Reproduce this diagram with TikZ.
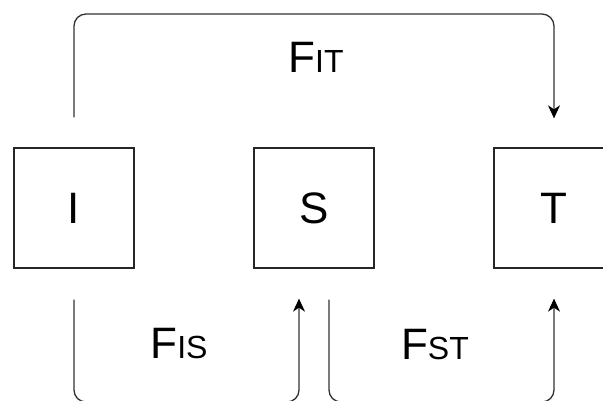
\documentclass[tikz,border=0pt]{standalone}
\usepackage{fontspec}
\setmainfont{Liberation Sans}
\usetikzlibrary{arrows.meta}
\newcommand{\subsz}{\fontsize{32}{36}\selectfont}
\begin{document}
\begin{tikzpicture}[x=1pt,y=-1pt,
  box/.style={draw=black!85, line width=1.3pt, minimum size=120pt, inner sep=0pt,
    font=\fontsize{44}{50}\selectfont},
  link/.style={draw=black!80, line width=1.3pt, rounded corners=12pt},
  tip/.style={-{Stealth[length=13pt,width=12pt,inset=4pt,fill=black,color=black]}},
  lbl/.style={font=\fontsize{44}{50}\selectfont, inner sep=0pt, anchor=base}]
\clip (0,0) rectangle (603,401);

% the three blocks
\node[box] (I) at (74,208) {I};
\node[box] (S) at (314,208) {S};
\node[box] (T) at (554,208) {T};

% connector ends
\coordinate (itA) at ([yshift=30pt]I.north);
\coordinate (itB) at ([yshift=29pt]T.north);
\coordinate (isA) at ([yshift=-31pt]I.south);
\coordinate (isB) at ([xshift=-15pt,yshift=-30pt]S.south);
\coordinate (stA) at ([xshift=15pt,yshift=-31pt]S.south);
\coordinate (stB) at ([yshift=-30pt]T.south);

% I -> T over the top
\draw[link,tip] (itA) -- (itA |- 0,14) -| (itB);
% I -> S and S -> T underneath
\draw[link,tip] (isA) -- (isA |- 0,402) -| (isB);
\draw[link,tip] (stA) -- (stA |- 0,402) -| (stB);

% flow labels
\node[lbl] (lIT) at (316,73) {F{\subsz IT}};
\node[lbl] (lIS) at (179,358) {F{\subsz IS}};
\node[lbl] (lST) at (435,359) {F{\subsz ST}};
\end{tikzpicture}
\end{document}
